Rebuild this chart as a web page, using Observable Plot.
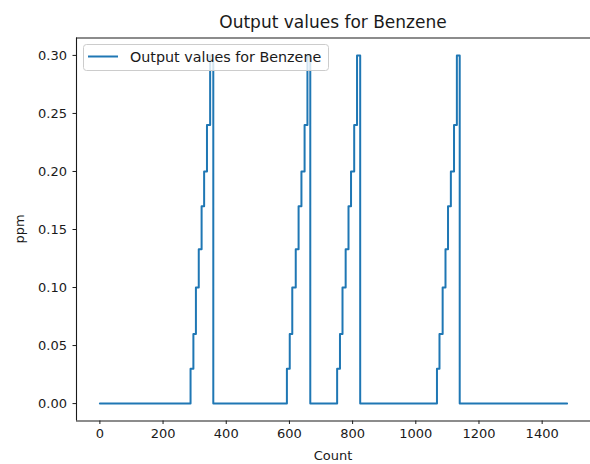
<!DOCTYPE html>
<html>
<head>
<meta charset="utf-8">
<script src="https://cdn.jsdelivr.net/npm/d3@7"></script>
<script src="https://cdn.jsdelivr.net/npm/@observablehq/plot@0.6"></script>
<style>
  html, body { margin: 0; padding: 0; background: white; }
  #chart { width: 590px; height: 464px; }
</style>
</head>
<body>
<div id="chart"></div>
<script>
// Sample counts at which the Benzene reading changes, and the reading (ppm) from that count on
const counts = [
  0,
  287, 296, 304, 313, 322, 330, 339, 349, 359,
  592, 601, 609, 620, 629, 638, 648, 657, 666,
  751, 760, 768, 778, 787, 795, 805, 814, 824,
  1067, 1075, 1085, 1094, 1102, 1111, 1121, 1130, 1139,
  1479
];
const ppmValues = [
  0,
  0.03, 0.06, 0.10, 0.133, 0.17, 0.20, 0.24, 0.30, 0,
  0.03, 0.06, 0.10, 0.133, 0.17, 0.20, 0.24, 0.30, 0,
  0.03, 0.06, 0.10, 0.133, 0.17, 0.20, 0.24, 0.30, 0,
  0.03, 0.06, 0.10, 0.133, 0.17, 0.20, 0.24, 0.30, 0,
  0
];
const xTicks = [0, 200, 400, 600, 800, 1000, 1200, 1400];
const yTicks = [0, 0.05, 0.10, 0.15, 0.20, 0.25, 0.30];

const seriesName = "Output values for Benzene";
const lineColor = "#1f77b4";
const inkColor = "#1a1a1a";
const font = "'DejaVu Sans', sans-serif";

const series = counts.map((c, i) => ({count: c, ppm: ppmValues[i]}));

// 5% padding around the data range on both axes
const xDomain = [-74, 1553];
const yDomain = [-0.015, 0.315];

const svg = Plot.plot({
  width: 590,
  height: 464,
  marginTop: 37.5,
  marginBottom: 43.5,
  marginLeft: 76,
  marginRight: 0,
  style: {fontFamily: font, fontSize: "13px", color: inkColor, background: "white", overflow: "visible"},
  x: {domain: xDomain},
  y: {domain: yDomain},
  marks: [
    Plot.line(series, {x: "count", y: "ppm", curve: "step-after", stroke: lineColor, strokeWidth: 2}),
    Plot.ruleX([xDomain[0]], {stroke: inkColor, strokeWidth: 1.1}),
    Plot.ruleY(yDomain, {stroke: inkColor, strokeWidth: 1.1}),
    Plot.axisX({ticks: xTicks, tickSize: 3.5, tickPadding: 4, label: null, tickFormat: d3.format("d")}),
    Plot.axisY({ticks: yTicks, tickSize: 3.5, tickPadding: 6, label: null, tickFormat: d3.format(".2f")})
  ]
});

const root = d3.select(svg);

// Title and axis names
root.append("text")
  .attr("x", 333).attr("y", 27.5)
  .attr("text-anchor", "middle")
  .attr("font-size", 17)
  .attr("fill", inkColor)
  .text(seriesName);

root.append("text")
  .attr("x", 333).attr("y", 460)
  .attr("text-anchor", "middle")
  .attr("font-size", 13)
  .attr("fill", inkColor)
  .text("Count");

root.append("text")
  .attr("transform", "translate(24,229) rotate(-90)")
  .attr("text-anchor", "middle")
  .attr("font-size", 13)
  .attr("fill", inkColor)
  .text("ppm");

// Legend box in the upper-left corner of the plot area
const legend = root.append("g");
legend.append("rect")
  .attr("x", 83.5).attr("y", 44.5)
  .attr("width", 245).attr("height", 26)
  .attr("rx", 3)
  .attr("fill", "white").attr("fill-opacity", 0.8)
  .attr("stroke", "#cccccc").attr("stroke-width", 1);
legend.append("line")
  .attr("x1", 88).attr("x2", 118)
  .attr("y1", 56.5).attr("y2", 56.5)
  .attr("stroke", lineColor).attr("stroke-width", 2);
legend.append("text")
  .attr("x", 130).attr("y", 61.5)
  .attr("text-anchor", "start")
  .attr("font-size", 14.3)
  .attr("fill", inkColor)
  .text(seriesName);

document.getElementById("chart").appendChild(svg);
</script>
</body>
</html>
